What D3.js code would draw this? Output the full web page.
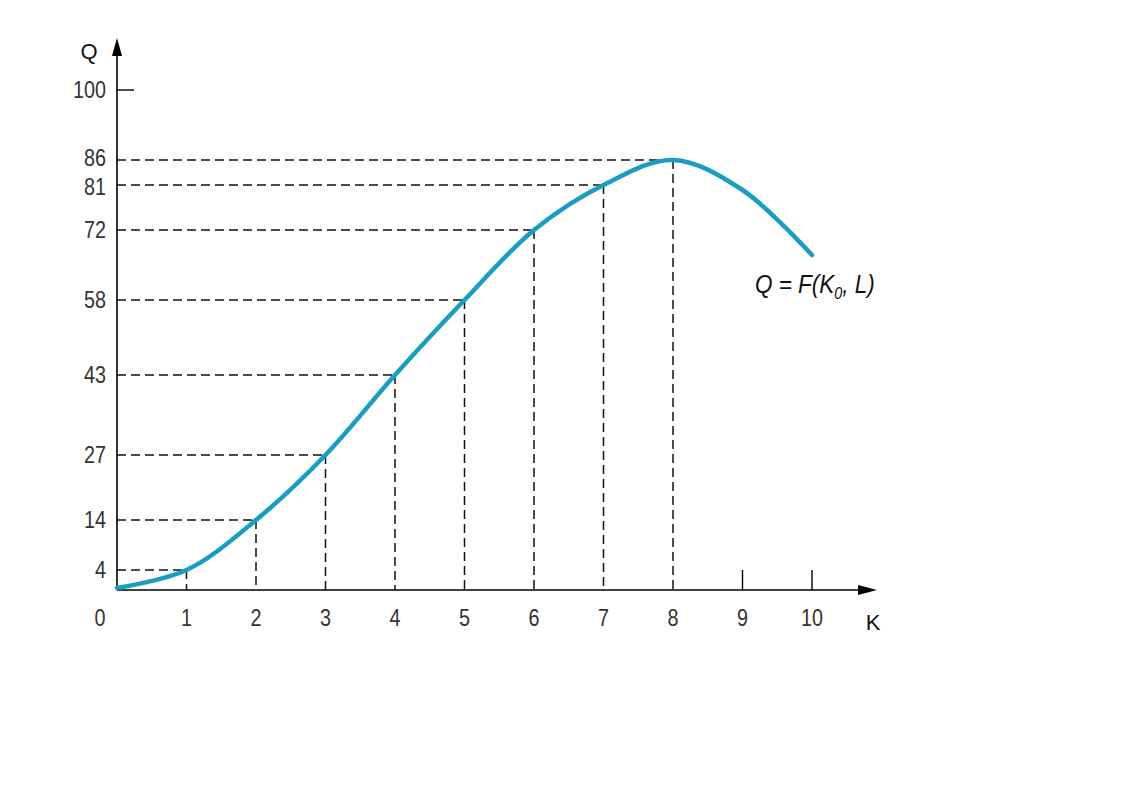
<!DOCTYPE html>
<html><head><meta charset="utf-8">
<script src="https://cdn.jsdelivr.net/npm/d3@7"></script>
<style>body{margin:0;background:#fff;}text{font-family:"Liberation Sans","DejaVu Sans",sans-serif;}</style>
</head><body>
<svg id="c" width="1123" height="794"></svg>
<script>
const labourK = [0,1,2,3,4,5,6,7,8,9,10];
const outputQ = [0.4,4,14,27,43,58,72,81,86,80,67];
const guideK = [1,2,3,4,5,6,7,8];
const guideQ = [4,14,27,43,58,72,81,86];
const yTickVals = [4,14,27,43,58,72,81,86,100];
const xTickVals = [1,2,3,4,5,6,7,8,9,10];

const svg = d3.select("#c");
const x = d3.scaleLinear().domain([0,10]).range([117,812]);
const y = d3.scaleLinear().domain([0,100]).range([590,90]);
const SX = 0.86;
const FS = 23;

// dashed guides
guideK.forEach((k,i)=>{
  const q = guideQ[i];
  svg.append("line").attr("x1",x(0)).attr("x2",x(k)).attr("y1",y(q)).attr("y2",y(q))
    .attr("stroke","#111").attr("stroke-width",1.5).attr("stroke-dasharray","9,5");
  svg.append("line").attr("x1",x(k)).attr("x2",x(k)).attr("y1",y(q)).attr("y2",y(0))
    .attr("stroke","#111").attr("stroke-width",1.5).attr("stroke-dasharray","9,5");
});

// axes
svg.append("line").attr("x1",x(0)).attr("x2",x(0)).attr("y1",y(0)).attr("y2",52).attr("stroke","#000").attr("stroke-width",1.6);
svg.append("path").attr("d",`M${x(0)},38 L${x(0)-5},56 L${x(0)+5},56 Z`).attr("fill","#000");
svg.append("line").attr("x1",x(0)).attr("x2",862).attr("y1",y(0)).attr("y2",y(0)).attr("stroke","#000").attr("stroke-width",1.6);
svg.append("path").attr("d",`M877,${y(0)} L858,${y(0)-5} L858,${y(0)+5} Z`).attr("fill","#000");

// tick for 100 and ticks at 9,10
svg.append("line").attr("x1",x(0)).attr("x2",x(0)+17).attr("y1",y(100)).attr("y2",y(100)).attr("stroke","#000").attr("stroke-width",1.4);
[9,10].forEach(k=>svg.append("line").attr("x1",x(k)).attr("x2",x(k)).attr("y1",y(0)).attr("y2",y(0)-20).attr("stroke","#000").attr("stroke-width",1.4));

// tick labels (condensed)
const yOff = d => d===86 ? -2 : (d===81 ? 2 : 0);
svg.selectAll(".yl").data(yTickVals).enter().append("text")
  .attr("transform",d=>`translate(106,${y(d)+8+yOff(d)}) scale(${SX},1)`)
  .attr("text-anchor","end").attr("font-size",FS).attr("fill","#333").text(d=>d);
svg.selectAll(".xl").data(xTickVals).enter().append("text")
  .attr("transform",d=>`translate(${x(d)},626) scale(${SX},1)`)
  .attr("text-anchor","middle").attr("font-size",FS).attr("fill","#333").text(d=>d);
svg.append("text").attr("transform",`translate(100,626) scale(${SX},1)`).attr("text-anchor","middle").attr("font-size",FS).attr("fill","#333").text("0");
svg.append("text").attr("x",89).attr("y",59).attr("text-anchor","middle").attr("font-size",22).attr("fill","#111").text("Q");
svg.append("text").attr("x",873).attr("y",630).attr("text-anchor","middle").attr("font-size",22).attr("fill","#111").text("K");

// curve
const line = d3.line().x((d,i)=>x(labourK[i])).y(d=>y(d)).curve(d3.curveCatmullRom.alpha(0.5));
svg.append("path").attr("d",line(outputQ)).attr("fill","none").attr("stroke","#1b9dc1").attr("stroke-width",4.5).attr("stroke-linecap","round");

// function label
const t = svg.append("text").attr("transform","translate(755,293) scale(0.9,1)").attr("font-size",25).attr("font-style","italic").attr("fill","#111");
t.append("tspan").text("Q = F(K");
t.append("tspan").attr("font-size",16).attr("dy",6).text("0");
t.append("tspan").attr("dy",-6).text(", L)");
</script>
</body></html>
